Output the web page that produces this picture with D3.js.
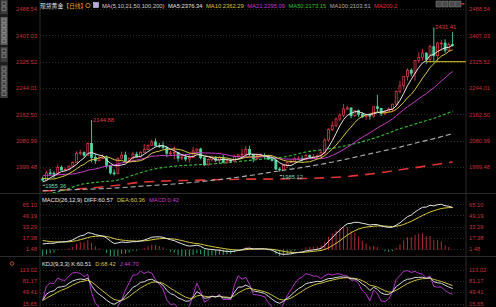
<!DOCTYPE html>
<html>
<head>
<meta charset="utf-8">
<title>现货黄金 日线</title>
<script src="https://cdn.jsdelivr.net/npm/d3@7"></script>
<style>
  html, body { margin: 0; padding: 0; background: #000; }
  svg { display: block; }
  text { font-family: "Liberation Sans", Arial, "Noto Sans CJK SC", sans-serif; }
</style>
</head>
<body>
<svg id="chart" width="496" height="307"></svg>
<script>
// daily candles, 2023-11-15 .. 2024-04-19 (one row = 10 bars)
const opens = [
  1963,1959,1981,1980,1978,1998,1990,1992,2002,2014,
  2041,2044,2036,2072,2029,2019,2025,2028,2004,1981,
  1980,2027,2036,2019,2027,2039,2031,2045,2053,2067,
  2077,2065,2063,2059,2042,2043,2045,2027,2030,2024,
  2029,2049,2055,2028,2006,2023,2029,2021,2029,2014,
  2020,2018,2032,2037,2039,2054,2039,2025,2035,2035,
  2034,2024,2020,1993,1992,2004,2013,2017,2025,2025,
  2024,2035,2031,2031,2034,2044,2083,2115,2128,2148,
  2160,2179,2182,2158,2174,2162,2155,2160,2157,2186,
  2181,2165,2172,2179,2194,2233,2251,2280,2299,2290,
  2329,2339,2352,2333,2372,2344,2383,2383,2361,2379
];
const highs = [
  1970,1988,1994,1986,2007,2004,1998,2004,2017,2048,
  2052,2048,2075,2144.88,2041,2034,2038,2035,2006,1992,
  2028,2047,2047,2028,2047,2047,2048,2071,2069,2084,
  2088,2074,2078,2064,2050,2064,2046,2040,2040,2039,
  2062,2057,2059,2031,2026,2035,2033,2033,2037,2024,
  2025,2037,2040,2056,2065,2065,2040,2041,2042,2042,
  2037,2031,2031,1999,2008,2016,2022,2031,2033,2035,
  2041,2038,2039,2039,2053,2088,2119,2141,2152,2165,
  2195,2189,2184,2175,2177,2169,2164,2163,2188,2223,
  2182,2176,2184,2195,2236,2266,2281,2305,2305,2330,
  2354,2365,2354,2378,2431.41,2386,2392,2395,2385,2417
];
const lows = [
  1955.36,1957,1975,1965,1975,1989,1988,1989,2000,2012,
  2035,2031,2034,2014,2009,2017,2024,1995,1976,1973,
  1977,2025,2016,2015,2022,2029,2028,2043,2052,2065,
  2064,2058,2056,2030,2034,2024,2016,2021,2017,2013,
  2027,2047,2023,2002,2004,2016,2015,2011,2011,2009,
  2012,2016,2025,2030,2034,2032,2014,2021,2032,2026,
  2021,2017,1990,1985.12,1988,1996,2012,2013,2021,2016,
  2021,2025,2026,2024,2030,2038,2078,2111,2123,2141,
  2154,2176,2150,2155,2154,2151,2146,2146,2152,2168,
  2157,2160,2170,2172,2187,2228,2240,2267,2280,2267,
  2321,2329,2319,2326,2325,2324,2359,2353,2358,2372
];
const closes = [
  1959,1981,1980,1978,1998,1990,1992,2002,2014,2041,
  2044,2036,2072,2029,2019,2025,2028,2004,1981,1980,
  2027,2036,2019,2027,2039,2031,2045,2053,2067,2077,
  2065,2063,2059,2042,2043,2045,2027,2030,2024,2029,
  2049,2055,2028,2006,2023,2029,2021,2029,2014,2020,
  2018,2032,2037,2039,2054,2039,2025,2035,2035,2034,
  2024,2020,1993,1992,2004,2013,2017,2025,2025,2024,
  2035,2031,2031,2034,2044,2083,2115,2128,2148,2160,
  2179,2182,2158,2174,2162,2155,2160,2157,2186,2181,
  2165,2172,2179,2194,2233,2251,2280,2299,2290,2329,
  2339,2352,2333,2372,2344,2383,2383,2361,2379,2376
];

// closes before the window, only to warm up MA5 / MA10 / MA21
const priorCloses = [1947,1974,1981,1973,1970,1979,1985,2006,1996,1983,
                     1982,1985,1992,1978,1969,1950,1958,1940,1946,1963];

// long averages at every 5th bar
const longIdx = [0,5,10,15,20,25,30,35,40,45,50,55,60,65,70,75,80,85,90,95,100,105,109];
const ma50  = [1915,1925,1945,1953,1959,1978,1994,2002,2006,2009,2014,2020,2026,2032,2046,2054,2064,2078,2096,2118,2136,2154,2173];
const ma100 = [1926,1928,1930,1932,1935,1939,1943,1947,1952,1958,1965,1973,1982,1991,2000,2010,2022,2035,2048,2061,2076,2090,2103];
const ma200 = [1925,1928,1932,1937,1943,1951,1955,1957,1958,1960,1961,1962,1962,1963,1964,1966,1969,1975,1982,1991,1999,2008,2015];

// ema12, ema26 and dea just before the first bar
const emaSeed = [1966, 1956.5, 14.5];

const priceTicks = [2488.54, 2407.03, 2325.52, 2244.01, 2162.50, 2080.99, 1999.48];
const macdTicks = [65.10, 49.19, 33.29, 17.38, 1.48];
const kdjTicks = [113.02, 81.17, 49.41, 15.65];

const titleText = ["现货黄金", "【日线】"];
const maLabels = ["MA(5,10,21,50,100,200)", "MA5:2376.34", "MA10:2362.29", "MA21:2295.09", "MA50:2173.15", "MA100:2103.51", "MA200:2"];
const macdLabels = ["MACD(26,12,9) DIFF:60.57", "DEA:60.36", "MACD:0.42"];
const kdjLabels = ["KDJ(9,3,3) K:60.51", "D:68.42", "J:44.70"];

const highMarks = [13, 104];
const lowMarks = [0, 63];
const supportLine = { from: 102, price: 2325.52 };

const RED = "#e03a46", GREEN = "#4fd8a4", FS = 5.8;
const maColors = ["#cfcfcf", "#e6e6e6", "#d8c83c", "#c83cc8", "#34c034", "#b0b0b0", "#e03434"];

const svg = d3.select("#chart");
const N = closes.length;
const left = 40, right = 466;

svg.append("rect").attr("width", 496).attr("height", 307).attr("fill", "#000");

const x = d3.scaleBand().domain(d3.range(N)).range([41.4, 41.4 + N * 3.75]).paddingInner(0.32);
const cx = i => x(i) + x.bandwidth() / 2;

const y = d3.scaleLinear().domain(d3.extent(priceTicks)).range([167, 9]);
const yM = d3.scaleLinear().domain(d3.extent(macdTicks)).range([248.7, 204.3]);
const yK = d3.scaleLinear().domain(d3.extent(kdjTicks)).range([303.5, 270]);

// panels
const defs = svg.append("defs");
[["clipMain", 0, 193], ["clipMacd", 195, 256], ["clipKdj", 258, 307]].forEach(([id, t, b]) => {
  defs.append("clipPath").attr("id", id).append("rect")
    .attr("x", left).attr("y", t).attr("width", right - left).attr("height", b - t);
});

// frame lines
svg.append("g").attr("stroke", "#2b2b2b").attr("stroke-width", 1)
  .selectAll("line")
  .data([[left, 0, left, 307], [right, 0, right, 307], [0, 193.5, 496, 193.5], [0, 256.5, 496, 256.5]])
  .join("line")
  .attr("x1", d => d[0]).attr("y1", d => d[1]).attr("x2", d => d[2]).attr("y2", d => d[3]);

// grid lines
function grid(scale, ticks) {
  svg.append("g").attr("stroke", "#2e2e2e").attr("stroke-dasharray", "1,2")
    .selectAll("line").data(ticks).join("line")
    .attr("x1", left).attr("x2", right)
    .attr("y1", d => Math.round(scale(d)) + 0.5).attr("y2", d => Math.round(scale(d)) + 0.5);
}
grid(y, priceTicks);
grid(yM, macdTicks);
grid(yK, kdjTicks);

// axes on both sides
function axes(scale, ticks) {
  const fmt = d3.format(".2f");
  [[d3.axisLeft(scale), left - 1], [d3.axisRight(scale), right + 1]].forEach(([ax, tx]) => {
    const g = svg.append("g").attr("transform", `translate(${tx},0)`)
      .call(ax.tickValues(ticks).tickFormat(fmt).tickSize(0).tickPadding(2));
    g.select(".domain").remove();
    g.selectAll("text").attr("fill", "#c8323c").style("font-size", FS + "px")
      .style("font-family", '"Liberation Sans", Arial, sans-serif');
  });
}
axes(y, priceTicks);
axes(yM, macdTicks);
axes(yK, kdjTicks);

// ---- main: candles + moving averages
const main = svg.append("g").attr("clip-path", "url(#clipMain)");

const allCloses = priorCloses.concat(closes);
const P = priorCloses.length;
const sma = n => closes.map((c, i) => d3.mean(allCloses.slice(i + P - n + 1, i + P + 1)));

const longLine = d3.line().x((d, i) => cx(longIdx[i])).y(d => y(d)).curve(d3.curveMonotoneX);
[[ma200, maColors[6], "10,7", 1.6], [ma100, maColors[5], "5,3", 1.1], [ma50, maColors[4], "3,2", 1.1]]
  .forEach(([vals, col, dash, w]) => {
    main.append("path").attr("d", longLine(vals)).attr("fill", "none")
      .attr("stroke", col).attr("stroke-width", w).attr("stroke-dasharray", dash);
  });

const candles = main.append("g").selectAll("g").data(d3.range(N)).join("g");
candles.append("line")
  .attr("x1", i => cx(i)).attr("x2", i => cx(i))
  .attr("y1", i => y(highs[i])).attr("y2", i => y(lows[i]))
  .attr("stroke", i => closes[i] >= opens[i] ? RED : GREEN).attr("stroke-width", 0.9);
candles.append("rect")
  .attr("x", i => x(i) + 0.3)
  .attr("width", x.bandwidth() - 0.6)
  .attr("y", i => y(Math.max(opens[i], closes[i])))
  .attr("height", i => Math.max(0.8, Math.abs(y(opens[i]) - y(closes[i]))))
  .attr("fill", i => closes[i] >= opens[i] ? "#000" : GREEN)
  .attr("stroke", i => closes[i] >= opens[i] ? RED : GREEN)
  .attr("stroke-width", 0.8);

const shortLine = d3.line().x((d, i) => cx(i)).y(d => y(d));
[[21, maColors[3]], [10, maColors[2]], [5, maColors[1]]].forEach(([n, col]) => {
  main.append("path").attr("d", shortLine(sma(n))).attr("fill", "none")
    .attr("stroke", col).attr("stroke-width", 1);
});

// drawn support line
main.append("line")
  .attr("x1", cx(supportLine.from)).attr("x2", right)
  .attr("y1", y(supportLine.price)).attr("y2", y(supportLine.price))
  .attr("stroke", "#b8a41c").attr("stroke-width", 1.4);

// high / low marks
highMarks.forEach(i => {
  svg.append("text").attr("x", cx(i) + 1.5).attr("y", y(highs[i]) + 1.5)
    .attr("fill", RED).style("font-size", FS + "px").text(highs[i].toFixed(2));
});
lowMarks.forEach(i => {
  svg.append("line").attr("x1", cx(i)).attr("x2", cx(i) + 2.5)
    .attr("y1", y(lows[i]) + 4).attr("y2", y(lows[i]) + 4)
    .attr("stroke", "#e0e0e0").attr("stroke-width", 0.8);
  svg.append("text").attr("x", cx(i) + 2.5).attr("y", y(lows[i]) + 7)
    .attr("fill", "#6ad8b0").style("font-size", FS + "px").text(lows[i].toFixed(2));
});

// ---- MACD
let e12 = emaSeed[0], e26 = emaSeed[1], dea = emaSeed[2];
const macd = closes.map(c => {
  e12 = e12 * 11 / 13 + c * 2 / 13;
  e26 = e26 * 25 / 27 + c * 2 / 27;
  const dif = e12 - e26;
  dea = dea * 0.8 + dif * 0.2;
  return { dif, dea, bar: 2 * (dif - dea) };
});
const mg = svg.append("g").attr("clip-path", "url(#clipMacd)");
mg.selectAll("line").data(macd).join("line")
  .attr("x1", (d, i) => cx(i)).attr("x2", (d, i) => cx(i))
  .attr("y1", yM(0)).attr("y2", d => yM(d.bar))
  .attr("stroke", d => d.bar >= 0 ? "#c8303e" : "#34b878").attr("stroke-width", 0.9);
const macdLine = key => d3.line().x((d, i) => cx(i)).y(d => yM(d[key]));
mg.append("path").attr("d", macdLine("dea")(macd)).attr("fill", "none").attr("stroke", "#d8c840").attr("stroke-width", 1);
mg.append("path").attr("d", macdLine("dif")(macd)).attr("fill", "none").attr("stroke", "#e6e6e6").attr("stroke-width", 1);

// ---- KDJ
let k = 0, d = 0;
const kdj = closes.map((c, i) => {
  const lo = d3.min(lows.slice(Math.max(0, i - 8), i + 1));
  const hi = d3.max(highs.slice(Math.max(0, i - 8), i + 1));
  const rsv = (c - lo) / (hi - lo) * 100;
  if (i === 0) { k = rsv; d = rsv; } else { k = (2 * k + rsv) / 3; d = (2 * d + k) / 3; }
  return { k, d, j: 3 * k - 2 * d };
});
const kg = svg.append("g").attr("clip-path", "url(#clipKdj)");
[["j", "#b432c8"], ["d", "#c8c03c"], ["k", "#d8d8d8"]].forEach(([key, col]) => {
  kg.append("path").attr("d", d3.line().x((v, i) => cx(i)).y(v => yK(v[key]))(kdj))
    .attr("fill", "none").attr("stroke", col).attr("stroke-width", 1);
});

// ---- headers
function header(xp, yp, labels, colors, gap) {
  const t = svg.append("text").attr("x", xp).attr("y", yp).style("font-size", FS + "px");
  labels.forEach((s, i) => t.append("tspan").attr("dx", i ? gap : 0).attr("fill", colors[i]).text(s));
}
header(40, 8, titleText, ["#e6e6e6", "#e8a030"], 0);
svg.append("circle").attr("cx", 88).attr("cy", 5.5).attr("r", 2.2).attr("fill", "none").attr("stroke", "#e8a030").attr("stroke-width", 0.8);
svg.append("rect").attr("x", 93.5).attr("y", 2.5).attr("width", 5).attr("height", 5).attr("fill", "#b7a8e8").attr("stroke", "#eee").attr("stroke-width", 0.5);
header(102, 8, maLabels, maColors, 3.5);
header(42, 202, macdLabels, ["#e6e6e6", "#d8c840", "#c83cc8"], 4);
header(42, 266, kdjLabels, ["#e6e6e6", "#d8c840", "#c83cc8"], 4);

// small buttons top right
svg.append("g").selectAll("rect").data([436, 442.5, 449, 455.5]).join("rect")
  .attr("x", d => d).attr("y", 1).attr("width", 5.5).attr("height", 6)
  .attr("fill", "#4a4a4a").attr("stroke", "#8a8a8a").attr("stroke-width", 0.5);
svg.append("rect").attr("x", 461.5).attr("y", 3).attr("width", 3).attr("height", 1.5).attr("fill", "#d83030");

// left tool strip
const strip = svg.append("g");
strip.append("rect").attr("x", 0).attr("y", 0).attr("width", 8).attr("height", 98).attr("fill", "#1d1d1d");
[[0, 14, "#3c3c3c"], [17, 28, "#5c5c5c"], [47, 15, "#3c3c3c"], [65, 33, "#3c3c3c"]].forEach(([t, h, c]) => {
  strip.append("rect").attr("x", 0.5).attr("y", t).attr("width", 7).attr("height", h).attr("fill", c);
  d3.range(t + 2, t + h - 3, 5).forEach(yy => {
    strip.append("rect").attr("x", 2).attr("y", yy).attr("width", 4).attr("height", 3.5)
      .attr("fill", "none").attr("stroke", "#b0b0b0").attr("stroke-width", 0.5);
  });
});
svg.append("circle").attr("cx", 12).attr("cy", 263.5).attr("r", 1.8).attr("fill", "none").attr("stroke", "#e05a2a").attr("stroke-width", 0.8);
</script>
</body>
</html>
